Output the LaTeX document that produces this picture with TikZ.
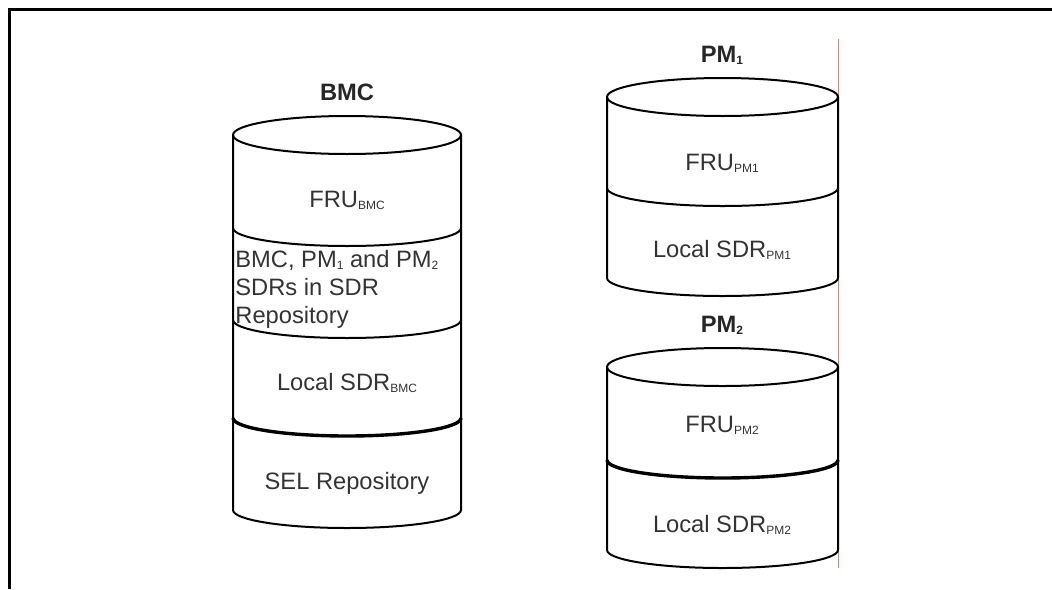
\documentclass[tikz,border=0pt]{standalone}
\usepackage{fontspec}
\setmainfont{Liberation Sans}
\usetikzlibrary{positioning}
\newcommand{\subtag}[1]{\raisebox{-1pt}{\fontsize{6}{6}\selectfont #1}}
\tikzset{
    frameline/.style={draw, line width=1.5pt},
    diskline/.style={draw, line width=1pt},
    thickseam/.style={draw, line width=1.7pt},
    disktext/.style={font=\fontsize{11.85}{14}\selectfont, text=black!80, inner sep=0pt},
    disktitle/.style={font=\bfseries\fontsize{11.85}{14}\selectfont, text=black!85, inner sep=0pt}
}

\begin{document}
\begin{tikzpicture}[x=0.5pt, y=-0.5pt]
    \useasboundingbox (0,0) rectangle (1052,589);
    % Frame and margin line
    \draw[frameline] (9,589) -- (9,9.5) -- (1052,9.5);
    \draw[red!55, line width=0.5pt] (838,39) -- (838,568);

    % BMC stack
    \draw[diskline, fill=white] (347,135) ellipse [x radius=114, y radius=19];
    \draw[diskline] (233,135) -- (233,510) arc[start angle=180, end angle=0, x radius=114, y radius=18] -- (461,135);
    \foreach \yy in {228,320}
        \draw[diskline] (233,\yy) arc[start angle=180, end angle=0, x radius=114, y radius=18];
    \draw[thickseam] (233,418) arc[start angle=180, end angle=0, x radius=114, y radius=18];

    % PM1 stack
    \draw[diskline] (722.5,97) ellipse [x radius=115.5, y radius=19];
    \draw[diskline] (607,97) -- (607,278) arc[start angle=180, end angle=0, x radius=115.5, y radius=18] -- (838,97);
    \draw[diskline] (607,188) arc[start angle=180, end angle=0, x radius=115.5, y radius=18];

    % PM2 stack
    \draw[diskline] (722.5,367) ellipse [x radius=115.5, y radius=19];
    \draw[diskline] (607,367) -- (607,550) arc[start angle=180, end angle=0, x radius=115.5, y radius=18] -- (838,367);
    \draw[thickseam] (607,460) arc[start angle=180, end angle=0, x radius=115.5, y radius=18];

    % Labels
    \node[disktitle] (bmctitle) at (347,92) {BMC};
    \node[disktext] (frubmc) at (347,200) {FRU\subtag{BMC}};
    \node[disktext, anchor=west, align=left, font=\fontsize{11.85}{14}\selectfont] (sdrrepo) at (235,289)
        {BMC, PM\subtag{1} and PM\subtag{2}\\SDRs in SDR\\Repository};
    \node[disktext] (localbmc) at (347,383) {Local SDR\subtag{BMC}};
    \node[disktext] (selrepo) at (347,483) {SEL Repository};

    \node[disktitle] (pmonetitle) at (722,55) {PM\subtag{1}};
    \node[disktext] (frupmone) at (722,163) {FRU\subtag{PM1}};
    \node[disktext] (localpmone) at (722,250) {Local SDR\subtag{PM1}};

    \node[disktitle] (pmtwotitle) at (722,325) {PM\subtag{2}};
    \node[disktext] (frupmtwo) at (722,425) {FRU\subtag{PM2}};
    \node[disktext] (localpmtwo) at (722,525) {Local SDR\subtag{PM2}};
\end{tikzpicture}
\end{document}
